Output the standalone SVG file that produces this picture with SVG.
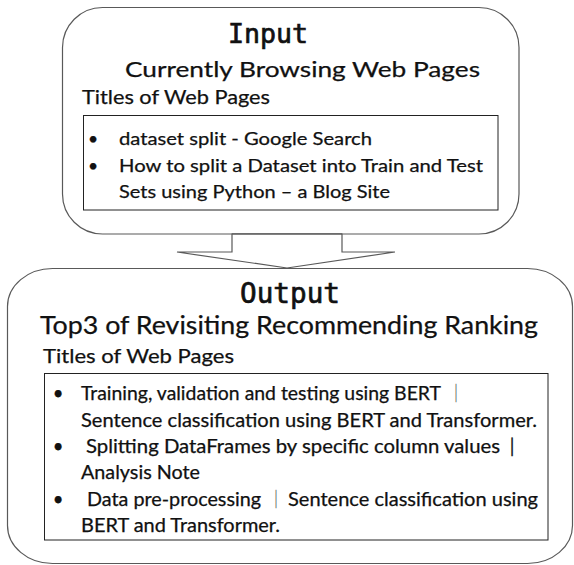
<svg xmlns="http://www.w3.org/2000/svg" width="574" height="565" viewBox="0 0 574 565">
<style>
.outer{fill:#fff;stroke:#595959;stroke-width:1.2}
.inner{fill:#fff;stroke:#222;stroke-width:1}
.arrow{fill:#fff;stroke:#595959;stroke-width:1.2;stroke-linejoin:miter}
.t{font-family:Lato,"Noto Sans","Noto Sans CJK JP",sans-serif;fill:#111;stroke:#111;stroke-width:0.25}
.mono{font-family:"DejaVu Sans Mono","Liberation Mono",monospace;fill:#111;stroke:#111;stroke-width:0.7}
.bar{font-family:"Noto Sans CJK JP",sans-serif;fill:#555}
</style>
<rect width="574" height="565" fill="#fff"/>
<g id="input">
<rect class="outer" x="62.5" y="7.5" width="456.5" height="226.5" rx="40" ry="40"/>
<text class="mono" x="268" y="43" font-size="27" text-anchor="middle" textLength="80" lengthAdjust="spacingAndGlyphs">Input</text>
<text class="t" x="125" y="77" font-size="21" textLength="355" lengthAdjust="spacingAndGlyphs">Currently Browsing Web Pages</text>
<text class="t" x="82" y="104" font-size="19.5" textLength="188" lengthAdjust="spacingAndGlyphs">Titles of Web Pages</text>
<rect class="inner" x="83.5" y="115.5" width="414.5" height="94.5"/>
<text class="t" x="93" y="145" font-size="17.5" text-anchor="middle">•</text>
<text class="t" x="119" y="145" font-size="17.5" textLength="253" lengthAdjust="spacingAndGlyphs">dataset split - Google Search</text>
<text class="t" x="93" y="172" font-size="17.5" text-anchor="middle">•</text>
<text class="t" x="119" y="172" font-size="17.5" textLength="364" lengthAdjust="spacingAndGlyphs">How to split a Dataset into Train and Test</text>
<text class="t" x="119" y="198" font-size="17.5" textLength="271" lengthAdjust="spacingAndGlyphs">Sets using Python – a Blog Site</text>
</g>
<g id="connectors">
<polygon class="arrow" points="232,234 232,252 177,252 287,268 395,252 342,252 342,234"/>
</g>
<g id="output">
<rect class="outer" x="7.5" y="268.5" width="565" height="295" rx="45" ry="38"/>
<line x1="232" y1="234" x2="342" y2="234" stroke="#595959" stroke-width="1.2"/>
<text class="mono" x="290" y="303" font-size="29" text-anchor="middle" textLength="100" lengthAdjust="spacingAndGlyphs">Output</text>
<text class="t" x="40" y="334" font-size="24.5" textLength="498" lengthAdjust="spacingAndGlyphs">Top3 of Revisiting Recommending Ranking</text>
<text class="t" x="43" y="363" font-size="19.5" textLength="191" lengthAdjust="spacingAndGlyphs">Titles of Web Pages</text>
<rect class="inner" x="44.5" y="373.5" width="503.5" height="166.5"/>
<text class="t" x="58" y="400" font-size="18.5" text-anchor="middle">•</text>
<text class="t" x="81" y="400" font-size="18.5" textLength="360" lengthAdjust="spacingAndGlyphs">Training, validation and testing using BERT</text>
<text class="bar" x="456" y="400" font-size="18.5" text-anchor="middle">｜</text>
<text class="t" x="81" y="427" font-size="18.5" textLength="456" lengthAdjust="spacingAndGlyphs">Sentence classification using BERT and Transformer.</text>
<text class="t" x="58" y="453" font-size="18.5" text-anchor="middle">•</text>
<text class="t" x="86" y="453" font-size="18.5" textLength="414" lengthAdjust="spacingAndGlyphs">Splitting DataFrames by specific column values</text>
<text class="t" x="512" y="453" font-size="18.5" text-anchor="middle">|</text>
<text class="t" x="81" y="479" font-size="18.5" textLength="119" lengthAdjust="spacingAndGlyphs">Analysis Note</text>
<text class="t" x="58" y="506" font-size="18.5" text-anchor="middle">•</text>
<text class="t" x="87" y="506" font-size="18.5" textLength="174" lengthAdjust="spacingAndGlyphs">Data pre-processing</text>
<text class="bar" x="276" y="506" font-size="18.5" text-anchor="middle">｜</text>
<text class="t" x="288" y="506" font-size="18.5" textLength="250" lengthAdjust="spacingAndGlyphs">Sentence classification using</text>
<text class="t" x="81" y="532" font-size="18.5" textLength="199" lengthAdjust="spacingAndGlyphs">BERT and Transformer.</text>
</g>
</svg>
